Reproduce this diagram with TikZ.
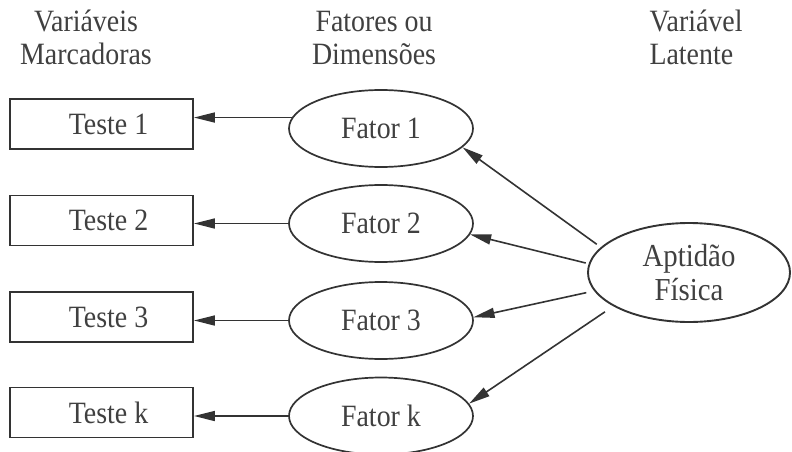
\documentclass[tikz,border=0pt]{standalone}
\usepackage{fontspec}
\setmainfont[FakeStretch=0.9]{Liberation Serif}
\usetikzlibrary{shapes.geometric,arrows.meta}
\definecolor{ink}{gray}{0.2}
\definecolor{txt}{gray}{0.25}
\begin{document}
\begin{tikzpicture}[x=1pt,y=-1pt,
  every node/.style={text=txt, font=\fontsize{31}{33}\selectfont},
  testbox/.style={draw=ink, line width=1.8pt, rectangle, minimum width=183pt, minimum height=50pt, inner sep=0pt},
  fatorell/.style={draw=ink, line width=1.7pt, ellipse, minimum width=184pt, minimum height=77pt, inner sep=0pt},
  latell/.style={draw=ink, line width=1.9pt, ellipse, minimum width=202pt, minimum height=99pt, inner sep=0pt, align=center, font=\fontsize{32}{34}\selectfont},
  arr/.style={draw=ink, line width=1.6pt, -{Triangle[length=21pt,width=10pt]}},
  hdr/.style={align=center, anchor=base}]
\useasboundingbox (0,0) rectangle (792,452);
\fill[white] (0,0) rectangle (792,452);

% headers (base anchor = baseline of last line)
\node[hdr] (h1) at (86,65) {Variáveis\\Marcadoras};
\node[hdr] (h2) at (374,65) {Fatores ou\\Dimensões};
\node[hdr, align=left, anchor=base west] (h3) at (646,65) {Variável\\Latente};

% tests
\node[testbox] (t1) at (101.5,124) {\hspace*{14pt}Teste 1};
\node[testbox] (t2) at (101.5,220.5) {\hspace*{14pt}Teste 2};
\node[testbox] (t3) at (101.5,317) {\hspace*{14pt}Teste 3};
\node[testbox] (t4) at (101.5,412.5) {\hspace*{14pt}Teste k};

% factors
\node[fatorell] (f1) at (381,128.5) {Fator 1};
\node[fatorell] (f2) at (381,223.5) {Fator 2};
\node[fatorell] (f3) at (381,320.5) {Fator 3};
\node[fatorell] (f4) at (381,416) {Fator k};

% latent
\node[latell] (ap) at (689,272.5) {Aptidão\\Física};

% arrows factor -> test
\draw[arr] (f1.173) -- (f1.173 -| t1.east);
\draw[arr] (f2.west) -- (f2.west -| t2.east);
\draw[arr] (f3.west) -- (f3.west -| t3.east);
\draw[arr] (f4.west) -- (f4.west -| t4.east);

% arrows latent -> factor
\draw[arr, shorten <=5pt] (ap.164) -- (f1.-13);
\draw[arr, shorten <=3pt] (ap.175) -- (f2.-7);
\draw[arr, shorten <=8pt] (ap.191) -- (f3.2);
\draw[arr, shorten <=10pt] (ap.204) -- (f4.8);
\end{tikzpicture}
\end{document}
